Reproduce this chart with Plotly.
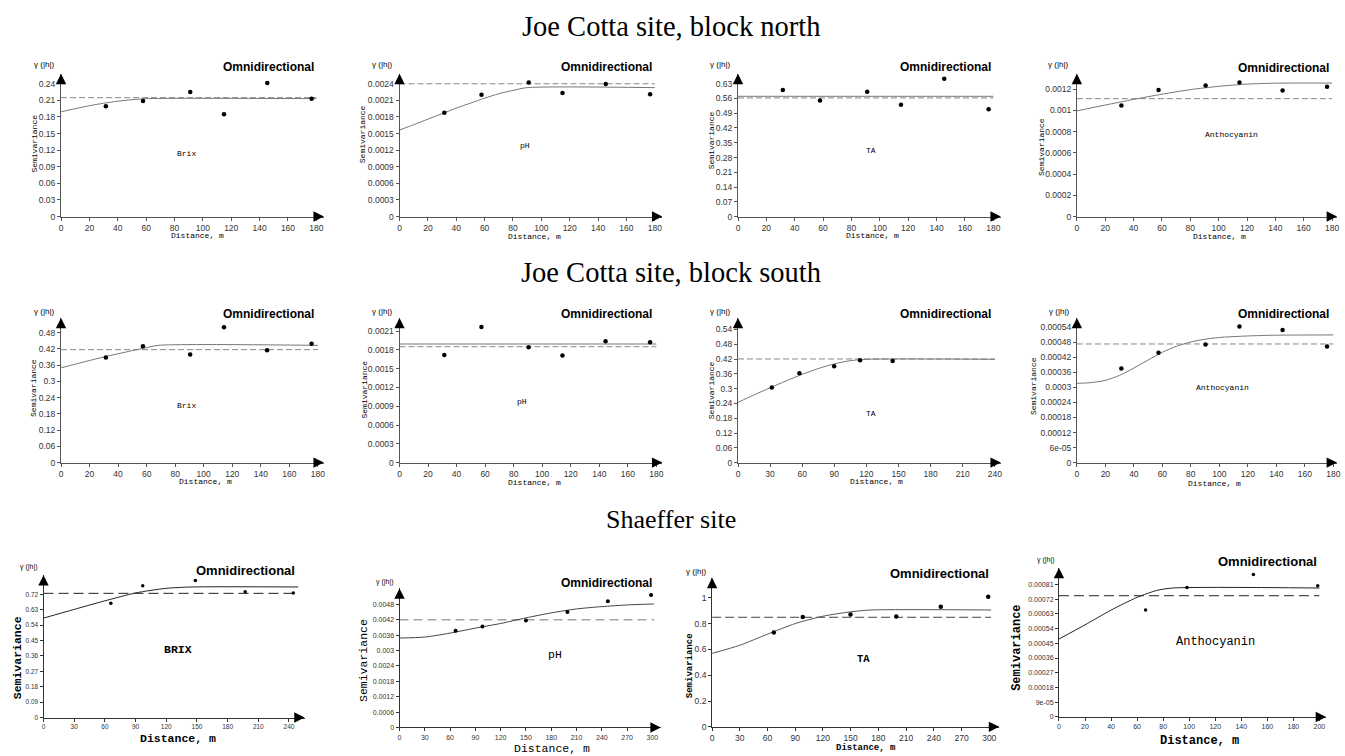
import plotly.graph_objects as go

W, H = 1345, 756

# ---------------- data ----------------
row_titles = ["Joe Cotta site, block north", "Joe Cotta site, block south", "Shaeffer site"]
var_labels = ["Brix", "pH", "TA", "Anthocyanin",
              "Brix", "pH", "TA", "Anthocyanin",
              "BRIX", "pH", "TA", "Anthocyanin"]

# Joe Cotta north
brix_n_lag = [31.6, 57.8, 91.1, 114.9, 145.4, 176.7]
brix_n_gamma = [0.1994, 0.2090, 0.2251, 0.1851, 0.2412, 0.2131]
brix_n_model_x = [0, 10, 20, 30, 40, 50, 60, 180]
brix_n_model_y = [0.1893, 0.1950, 0.2003, 0.2048, 0.2085, 0.2112, 0.2131, 0.2131]
brix_n_var = 0.2149

ph_n_lag = [31.6, 57.8, 91.1, 114.9, 145.4, 176.7]
ph_n_gamma = [0.001875, 0.002203, 0.002424, 0.002233, 0.002394, 0.002209]
ph_n_model_x = [0, 10, 20, 30, 40, 50, 60, 70, 80, 90, 180]
ph_n_model_y = [0.001564, 0.00166, 0.00176, 0.00186, 0.00196, 0.00205, 0.00214, 0.00222, 0.00228, 0.00233, 0.00233]
ph_n_var = 0.0024

ta_n_lag = [31.6, 57.8, 91.1, 114.9, 145.4, 176.7]
ta_n_gamma = [0.6002, 0.5501, 0.5924, 0.5297, 0.6535, 0.5093]
ta_n_model_x = [0, 180]
ta_n_model_y = [0.5704, 0.5704]
ta_n_var = 0.5626

ant_n_lag = [31.4, 57.6, 90.8, 114.7, 145.1, 176.5]
ant_n_gamma = [0.001045, 0.001191, 0.001234, 0.001262, 0.001188, 0.001222]
ant_n_model_x = [0, 20, 40, 60, 80, 100, 120, 140, 180]
ant_n_model_y = [0.000995, 0.00105, 0.001103, 0.001152, 0.001195, 0.001226, 0.001247, 0.001256, 0.001257]
ant_n_var = 0.00111

# Joe Cotta south
brix_s_lag = [31.4, 57.4, 90.5, 114.2, 144.4, 175.6]
brix_s_gamma = [0.3882, 0.4298, 0.3992, 0.5008, 0.4151, 0.4396]
brix_s_model_x = [0, 10, 20, 30, 40, 50, 60, 68, 180]
brix_s_model_y = [0.3502, 0.3640, 0.3775, 0.3905, 0.4025, 0.4140, 0.4250, 0.4335, 0.4335]
brix_s_var = 0.4176

ph_s_lag = [31.4, 57.4, 90.5, 114.2, 144.4, 175.6]
ph_s_gamma = [0.001719, 0.002164, 0.001841, 0.001709, 0.001936, 0.00192]
ph_s_model_x = [0, 180]
ph_s_model_y = [0.001894, 0.001894]
ph_s_var = 0.001851

ta_s_lag = [31.6, 57.4, 89.9, 114.1, 144.5]
ta_s_gamma = [0.3049, 0.3627, 0.3909, 0.4151, 0.4124]
ta_s_model_x = [0, 15, 30, 45, 60, 75, 90, 105, 120, 240]
ta_s_model_y = [0.2445, 0.2745, 0.3035, 0.3315, 0.3580, 0.3815, 0.4005, 0.4135, 0.4190, 0.4190]
ta_s_var = 0.4204

ant_s_lag = [31.2, 57.3, 90.3, 114.1, 144.4, 175.6]
ant_s_gamma = [0.000375, 0.000438, 0.000471, 0.000543, 0.000529, 0.000463]
ant_s_model_x = [0, 10, 20, 30, 40, 50, 60, 70, 80, 90, 100, 120, 140, 180]
ant_s_model_y = [0.000316, 0.000319, 0.000328, 0.000348, 0.000377, 0.000409, 0.000440, 0.000464,
                 0.000481, 0.000492, 0.000499, 0.000505, 0.000508, 0.000509]
ant_s_var = 0.000473

# Shaeffer
brix_sh_lag = [65.8, 97.0, 148.5, 197.2, 244.2]
brix_sh_gamma = [0.6677, 0.7703, 0.8013, 0.7355, 0.7277]
brix_sh_model_x = [0, 30, 60, 90, 120, 145, 249]
brix_sh_model_y = [0.581, 0.632, 0.682, 0.728, 0.755, 0.763, 0.763]
brix_sh_var = 0.7258

ph_sh_lag = [66.5, 98.4, 150.0, 199.2, 247.2, 298.4]
ph_sh_gamma = [0.003768, 0.003935, 0.004168, 0.004503, 0.004916, 0.005161]
ph_sh_model_x = [0, 30, 60, 90, 120, 150, 180, 210, 240, 270, 302]
ph_sh_model_y = [0.003484, 0.003523, 0.003677, 0.003871, 0.004052, 0.004271, 0.004465,
                 0.004619, 0.00471, 0.004774, 0.004813]
ph_sh_var = 0.004194

ta_sh_lag = [66.8, 98.1, 149.8, 199.4, 247.5, 298.9]
ta_sh_gamma = [0.7308, 0.8513, 0.8692, 0.8538, 0.9308, 1.0077]
ta_sh_model_x = [0, 30, 60, 90, 120, 150, 172, 302]
ta_sh_model_y = [0.569, 0.632, 0.718, 0.800, 0.857, 0.891, 0.905, 0.905]
ta_sh_var = 0.8487

ant_sh_lag = [66.5, 98.3, 149.3, 198.7]
ant_sh_gamma = [0.000654, 0.000792, 0.000871, 0.000802]
ant_sh_model_x = [0, 20, 40, 60, 75, 87, 200]
ant_sh_model_y = [0.000476, 0.000563, 0.000653, 0.000731, 0.000773, 0.000788, 0.000788]
ant_sh_var = 0.000741

# tick labels
x_ticks_180 = ["0", "20", "40", "60", "80", "100", "120", "140", "160", "180"]
x_ticks_240 = ["0", "30", "60", "90", "120", "150", "180", "210", "240"]
x_ticks_300 = ["0", "30", "60", "90", "120", "150", "180", "210", "240", "270", "300"]
x_ticks_200 = ["0", "20", "40", "60", "80", "100", "120", "140", "160", "180", "200"]
y_ticks_1 = ["0", "0.03", "0.06", "0.09", "0.12", "0.15", "0.18", "0.21", "0.24"]
y_ticks_2 = ["0", "0.0003", "0.0006", "0.0009", "0.0012", "0.0015", "0.0018", "0.0021", "0.0024"]
y_ticks_3 = ["0", "0.07", "0.14", "0.21", "0.28", "0.35", "0.42", "0.49", "0.56", "0.63"]
y_ticks_4 = ["0", "0.0002", "0.0004", "0.0006", "0.0008", "0.001", "0.0012"]
y_ticks_5 = ["0", "0.06", "0.12", "0.18", "0.24", "0.3", "0.36", "0.42", "0.48"]
y_ticks_6 = ["0", "0.0003", "0.0006", "0.0009", "0.0012", "0.0015", "0.0018", "0.0021"]
y_ticks_7 = ["0", "0.06", "0.12", "0.18", "0.24", "0.3", "0.36", "0.42", "0.48", "0.54"]
y_ticks_8 = ["0", "6e-05", "0.00012", "0.00018", "0.00024", "0.0003", "0.00036", "0.00042", "0.00048", "0.00054"]
y_ticks_9 = ["0", "0.09", "0.18", "0.27", "0.36", "0.45", "0.54", "0.63", "0.72"]
y_ticks_10 = ["0", "0.0006", "0.0012", "0.0018", "0.0024", "0.003", "0.0036", "0.0042", "0.0048"]
y_ticks_11 = ["0", "0.2", "0.4", "0.6", "0.8", "1"]
y_ticks_12 = ["0", "9e-05", "0.00018", "0.00027", "0.00036", "0.00045", "0.00054", "0.00063", "0.00072", "0.00081"]

# ---------------- layout specs (pixels) ----------------
SANS = "Liberation Sans, Arial, sans-serif"
MONO = "Liberation Mono, Courier New, monospace"
SERIF = "Liberation Serif, Times New Roman, serif"

small = dict(tick=8.5, title=8, title_bold=False, omni=12, var=8, var_bold=False, gam=8,
             line="#777777", dash="#888888", dashpat="6px,3px", axis="#555555", mk=4.5)

panels = [
    dict(lag=brix_n_lag, g=brix_n_gamma, mx=brix_n_model_x, my=brix_n_model_y, v=brix_n_var,
         xt=x_ticks_180, yt=y_ticks_1, dom=(59.3, 323.3, 74.3, 218), xmax=185.3, ymax=0.258,
         omni=(315, 67.7), var=(185.7, 154.3), gam=(41.7, 65), ytl=(31.7, 145), xtl=(196.7, 237.5), st=small),
    dict(lag=ph_n_lag, g=ph_n_gamma, mx=ph_n_model_x, my=ph_n_model_y, v=ph_n_var,
         xt=x_ticks_180, yt=y_ticks_2, dom=(399.3, 663.3, 74.3, 218), xmax=185.3, ymax=0.00258,
         omni=(655, 67.7), var=(525, 146.7), gam=(381.7, 65), ytl=(361.7, 135), xtl=(535, 238), st=small),
    dict(lag=ta_n_lag, g=ta_n_gamma, mx=ta_n_model_x, my=ta_n_model_y, v=ta_n_var,
         xt=x_ticks_180, yt=y_ticks_3, dom=(739.3, 1003.3, 74.3, 218), xmax=185.3, ymax=0.677,
         omni=(995, 67.7), var=(872.7, 152), gam=(721.7, 65), ytl=(712.7, 141.7), xtl=(874.3, 237.5), st=small),
    dict(lag=ant_n_lag, g=ant_n_gamma, mx=ant_n_model_x, my=ant_n_model_y, v=ant_n_var,
         xt=x_ticks_180, yt=y_ticks_4, dom=(1079.7, 1341, 74.3, 218), xmax=183.5, ymax=0.001344,
         omni=(1335, 68), var=(1235, 135), gam=(1061, 65), ytl=(1044.3, 148.3), xtl=(1223.3, 238), st=small),
    dict(lag=brix_s_lag, g=brix_s_gamma, mx=brix_s_model_x, my=brix_s_model_y, v=brix_s_var,
         xt=x_ticks_180, yt=y_ticks_5, dom=(59.3, 323.3, 320, 465.7), xmax=184.2, ymax=0.535,
         omni=(315, 315.7), var=(185, 408.7), gam=(41.7, 314), ytl=(31.7, 391), xtl=(204, 485), st=small),
    dict(lag=ph_s_lag, g=ph_s_gamma, mx=ph_s_model_x, my=ph_s_model_y, v=ph_s_var,
         xt=x_ticks_180, yt=y_ticks_6, dom=(399.3, 663.3, 320, 465.7), xmax=184.2, ymax=0.002311,
         omni=(655, 315.7), var=(522.3, 403.7), gam=(381.7, 314), ytl=(364, 391.7), xtl=(535, 486), st=small),
    dict(lag=ta_s_lag, g=ta_s_gamma, mx=ta_s_model_x, my=ta_s_model_y, v=ta_s_var,
         xt=x_ticks_240, yt=y_ticks_7, dom=(739.3, 1003.3, 320, 465.7), xmax=245.6, ymax=0.587,
         omni=(995, 315.7), var=(872.7, 416.7), gam=(721.7, 314), ytl=(712.7, 393.3), xtl=(878.3, 485), st=small),
    dict(lag=ant_s_lag, g=ant_s_gamma, mx=ant_s_model_x, my=ant_s_model_y, v=ant_s_var,
         xt=x_ticks_180, yt=y_ticks_8, dom=(1079.7, 1341, 320, 465.7), xmax=182.6, ymax=0.000577,
         omni=(1335, 315.7), var=(1225.7, 389.7), gam=(1061.7, 314), ytl=(1036, 388.3), xtl=(1218.3, 486.5), st=small),
    dict(lag=brix_sh_lag, g=brix_sh_gamma, mx=brix_sh_model_x, my=brix_sh_model_y, v=brix_sh_var,
         xt=x_ticks_240, yt=y_ticks_9, dom=(41.7, 304, 579, 722.3), xmax=255.3, ymax=0.832,
         omni=(296.7, 574), var=(177, 653.7), gam=(26.7, 570.7), ytl=(15, 661.7), xtl=(176.7, 743),
         st=dict(tick=6.5, title=11.5, title_bold=True, omni=13, var=11.5, var_bold=True, gam=7,
                 line="#222222", dash="#222222", dashpat="10px,5px", axis="#333333", mk=3.5)),
    dict(lag=ph_sh_lag, g=ph_sh_gamma, mx=ph_sh_model_x, my=ph_sh_model_y, v=ph_sh_var,
         xt=x_ticks_300, yt=y_ticks_10, dom=(399.3, 661.7, 592.3, 732.3), xmax=309.9, ymax=0.00542,
         omni=(655, 587.3), var=(555, 659.3), gam=(385, 586), ytl=(363, 665), xtl=(552.3, 753),
         st=dict(tick=7, title=11.5, title_bold=False, omni=12, var=11.5, var_bold=False, gam=7,
                 line="#444444", dash="#777777", dashpat="9px,5px", axis="#333333", mk=4)),
    dict(lag=ta_sh_lag, g=ta_sh_gamma, mx=ta_sh_model_x, my=ta_sh_model_y, v=ta_sh_var,
         xt=x_ticks_300, yt=y_ticks_11, dom=(713.3, 1001.7, 581.7, 731.7), xmax=310.8, ymax=1.154,
         omni=(993.3, 577.3), var=(865.7, 663.7), gam=(696.7, 575.7), ytl=(690.7, 670), xtl=(868.3, 753),
         st=dict(tick=8.5, title=9, title_bold=True, omni=13, var=10.5, var_bold=True, gam=8,
                 line="#555555", dash="#444444", dashpat="9px,4px", axis="#333333", mk=4.5)),
    dict(lag=ant_sh_lag, g=ant_sh_gamma, mx=ant_sh_model_x, my=ant_sh_model_y, v=ant_sh_var,
         xt=x_ticks_200, yt=y_ticks_12, dom=(1061.7, 1330, 571.7, 721.7), xmax=205.1, ymax=0.000911,
         omni=(1323.3, 565.7), var=(1219, 646.7), gam=(1048.3, 564), ytl=(1020, 651.7), xtl=(1203.3, 746),
         st=dict(tick=7, title=12, title_bold=True, omni=13, var=12, var_bold=False, gam=7,
                 line="#222222", dash="#222222", dashpat="10px,5px", axis="#333333", mk=3.5)),
]


def px(x):
    return x / W


def py(y):
    return 1 - y / H


def tb(s, b):
    return f"<b>{s}</b>" if b else s


fig = go.Figure()
annotations = []
layout_axes = {}

for i, p in enumerate(panels, start=1):
    st = p["st"]
    xa = "x" if i == 1 else f"x{i}"
    ya = "y" if i == 1 else f"y{i}"
    xl, xr, yt, yb = p["dom"]
    xend = p["mx"][-1]

    # variance (dashed)
    fig.add_trace(go.Scatter(x=[0, xend], y=[p["v"], p["v"]], mode="lines", xaxis=xa, yaxis=ya,
                             line=dict(color=st["dash"], width=1, dash=st["dashpat"]),
                             showlegend=False, hoverinfo="skip"))
    # model (solid)
    fig.add_trace(go.Scatter(x=p["mx"], y=p["my"], mode="lines", xaxis=xa, yaxis=ya,
                             line=dict(color=st["line"], width=1, shape="spline", smoothing=0.7),
                             showlegend=False, hoverinfo="skip"))
    # experimental points
    fig.add_trace(go.Scatter(x=p["lag"], y=p["g"], mode="markers", xaxis=xa, yaxis=ya,
                             marker=dict(color="black", size=st["mk"]),
                             showlegend=False, cliponaxis=False))

    xvals = [float(s) for s in p["xt"]]
    yvals = [float(s) for s in p["yt"]]
    common = dict(showgrid=False, zeroline=False, showline=True, linecolor=st["axis"], linewidth=1,
                  ticks="outside", ticklen=3, tickcolor=st["axis"],
                  tickfont=dict(family=SANS, size=st["tick"], color="#333333"))
    layout_axes["xaxis" if i == 1 else f"xaxis{i}"] = dict(
        domain=[px(xl), px(xr)], anchor=ya, range=[0, p["xmax"]],
        tickvals=xvals, ticktext=p["xt"], **common)
    layout_axes["yaxis" if i == 1 else f"yaxis{i}"] = dict(
        domain=[py(yb), py(yt)], anchor=xa, range=[0, p["ymax"]],
        tickvals=yvals, ticktext=p["yt"], **common)

    # arrow heads
    annotations.append(dict(x=px(xl), y=py(yt), xref="paper", yref="paper", text="", showarrow=True,
                            ax=0, ay=9, arrowhead=2, arrowsize=1.6, arrowwidth=1.3, arrowcolor="black"))
    annotations.append(dict(x=px(xr), y=py(yb), xref="paper", yref="paper", text="", showarrow=True,
                            ax=-9, ay=0, arrowhead=2, arrowsize=1.6, arrowwidth=1.3, arrowcolor="black"))

    annotations.append(dict(x=px(p["omni"][0]), y=py(p["omni"][1]), xref="paper", yref="paper",
                            text="<b>Omnidirectional</b>", showarrow=False, xanchor="right", yanchor="middle",
                            font=dict(family=SANS, size=st["omni"], color="black")))
    annotations.append(dict(x=px(p["var"][0]), y=py(p["var"][1]), xref="paper", yref="paper",
                            text=tb(var_labels[i - 1], st["var_bold"]), showarrow=False,
                            xanchor="center", yanchor="middle",
                            font=dict(family=MONO, size=st["var"], color="black")))
    annotations.append(dict(x=px(p["gam"][0]), y=py(p["gam"][1]), xref="paper", yref="paper",
                            text="γ (|h|)", showarrow=False, xanchor="center", yanchor="middle",
                            font=dict(family=SANS, size=st["gam"], color="black")))
    annotations.append(dict(x=px(p["ytl"][0]), y=py(p["ytl"][1]), xref="paper", yref="paper",
                            text=tb("Semivariance", st["title_bold"]), showarrow=False, textangle=-90,
                            xanchor="center", yanchor="middle",
                            font=dict(family=MONO, size=st["title"], color="black")))
    annotations.append(dict(x=px(p["xtl"][0]), y=py(p["xtl"][1]), xref="paper", yref="paper",
                            text=tb("Distance, m", st["title_bold"]), showarrow=False,
                            xanchor="center", yanchor="middle",
                            font=dict(family=MONO, size=st["title"], color="black")))

for t, yc, fs in zip(row_titles, [27, 274, 523], [28.5, 28.5, 26]):
    annotations.append(dict(x=px(672), y=py(yc), xref="paper", yref="paper", text=t, showarrow=False,
                            xanchor="center", yanchor="middle",
                            font=dict(family=SERIF, size=fs, color="black")))

fig.update_layout(width=W, height=H, margin=dict(l=0, r=0, t=0, b=0),
                  paper_bgcolor="white", plot_bgcolor="white",
                  annotations=annotations, showlegend=False, **layout_axes)

fig.write_html("out.html", config={"displayModeBar": False})
